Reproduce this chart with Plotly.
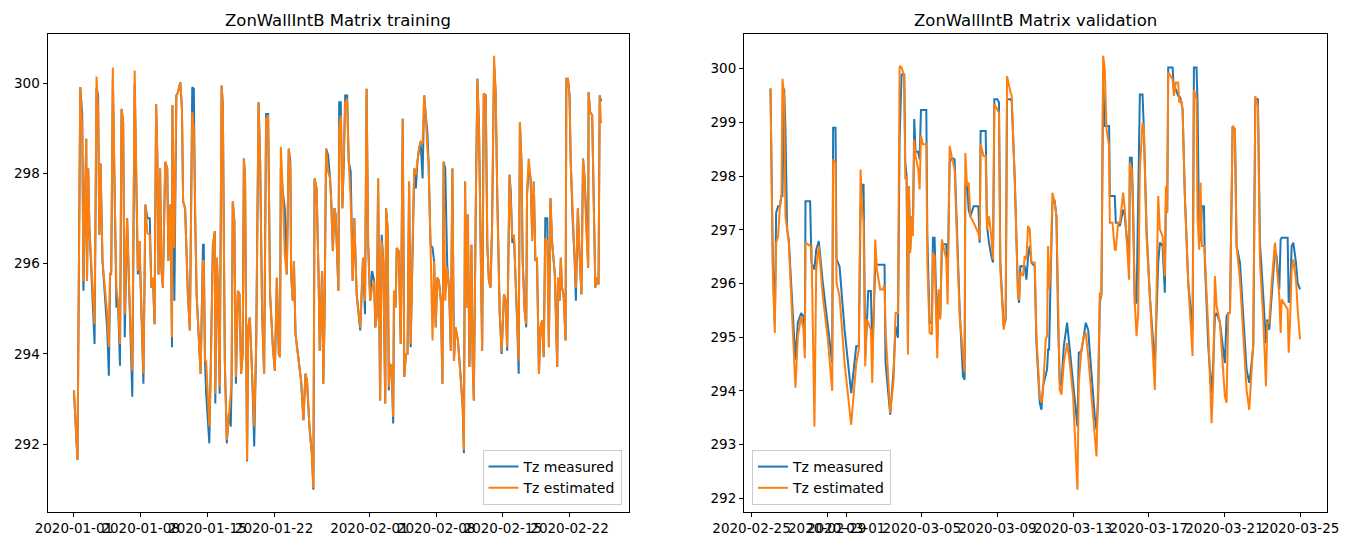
import pandas as pd
import plotly.graph_objects as go

# ---------------- data: training (hours after 2020-01-01 00:00) ----------------
train_start = "2020-01-01 00:00"
train_hours = [
    0, 4, 9, 16, 21, 24, 31, 33, 36, 39,
    52, 57, 61, 64, 67, 72, 79, 84, 88, 91,
    94, 98, 103, 107, 111, 116, 120, 124, 128, 134,
    140, 147, 153, 157, 161, 165, 170, 175, 180, 185,
    191, 195, 199, 203, 207, 210, 213, 217, 220, 224,
    230, 235, 238, 243, 247, 248, 253, 258, 262, 268,
    272, 275, 280, 287, 292, 295, 298, 302, 305, 309,
    319, 325, 327, 330, 333, 341, 345, 350, 355, 356,
    360, 363, 367, 372, 375, 380, 385, 390, 395, 397,
    400, 404, 408, 413, 417, 421, 425, 428, 431, 436,
    439, 443, 449, 454, 459, 465, 469, 474, 479, 484,
    489, 494, 501, 506, 511, 516, 519, 521, 526, 531,
    536, 541, 545, 547, 551, 554, 558, 563, 572, 578,
    583, 587, 593, 599, 603, 606, 611, 616, 619, 625,
    628, 631, 635, 640, 645, 648, 652, 656, 659, 662,
    666, 668, 672, 676, 680, 683, 688, 692, 697, 702,
    706, 712, 721, 728, 733, 737, 741, 746, 751, 756,
    759, 763, 766, 771, 775, 779, 784, 786, 790, 793,
    796, 800, 804, 806, 810, 813, 818, 823, 828, 832,
    836, 840, 844, 848, 852, 857, 861, 865, 869, 873,
    878, 882, 886, 890, 893, 898, 903, 907, 911, 915,
    919, 924, 928, 931, 935, 940, 945, 949, 953, 957,
    961, 967, 974, 979, 982, 985, 988, 992, 996, 1001,
    1004, 1007, 1012, 1016, 1020, 1024, 1028, 1032, 1037, 1041,
    1045, 1049, 1053, 1058, 1062, 1066, 1072, 1077, 1083, 1087,
    1091, 1094, 1097, 1100, 1104, 1108, 1112, 1116, 1120, 1123,
    1127, 1130, 1135, 1139, 1141, 1145, 1150, 1154, 1158, 1162,
    1166, 1171, 1175, 1179, 1183, 1187, 1192, 1196, 1200, 1204,
    1211, 1217, 1219, 1223, 1226, 1229, 1233, 1238, 1240, 1244,
    1248, 1251, 1256, 1261, 1264, 1269, 1273, 1278, 1282, 1286,
    1290, 1295, 1296, 1300, 1305, 1310, 1313, 1317, 1321, 1324,
    1327, 1330,
]
train_measured = [
    293.19, 292.46, 291.65, 299.91, 299.32, 295.40, 298.77, 295.62, 298.11, 296.79,
    294.22, 299.90, 299.73, 296.64, 298.22, 296.06, 295.03, 294.52, 293.52, 295.76,
    295.84, 300.10, 297.38, 295.03, 295.18, 293.74, 299.43, 299.14, 294.37, 297.01,
    295.18, 293.05, 300.00, 298.19, 295.76, 296.50, 295.03, 293.34, 297.31, 297.01,
    297.01, 295.47, 295.69, 294.66, 299.54, 298.41, 295.76, 298.11, 295.91, 295.47,
    298.26, 298.11, 296.06, 297.31, 294.15, 299.51, 295.18, 299.73, 299.80, 300.02,
    299.43, 297.38, 297.23, 295.32, 294.52, 298.19, 299.91, 299.88, 297.16, 295.32,
    293.56, 296.42, 296.42, 293.85, 293.12, 292.02, 293.71, 296.42, 296.72, 292.90,
    296.13, 295.32, 293.12, 299.95, 299.51, 293.85, 292.02, 292.68, 292.39, 293.34,
    297.38, 296.94, 293.34, 295.40, 295.32, 293.56, 294.00, 298.33, 297.89, 291.62,
    294.59, 294.81, 293.49, 291.95, 294.22, 299.58, 298.26, 294.88, 293.56, 299.32,
    299.32, 295.32, 294.15, 293.63, 295.69, 294.00, 293.93, 298.11, 297.60, 297.23,
    295.76, 298.55, 298.26, 295.76, 295.18, 296.06, 294.44, 294.07, 293.41, 292.53,
    293.56, 293.41, 292.39, 291.80, 290.99, 297.89, 297.67, 295.76, 294.07, 295.84,
    293.34, 294.74, 298.55, 298.41, 297.89, 297.38, 296.28, 297.23, 297.09, 296.42,
    295.40, 299.58, 299.58, 297.23, 298.33, 299.73, 299.73, 298.26, 298.04, 295.62,
    297.01, 295.32, 294.52, 296.13, 294.88, 299.88, 296.42, 295.18, 295.84, 295.62,
    294.59, 294.88, 297.89, 292.97, 296.64, 296.06, 292.90, 297.23, 296.79, 293.19,
    293.78, 293.71, 292.46, 295.40, 295.03, 296.35, 296.28, 294.22, 299.21, 293.49,
    294.00, 294.00, 297.82, 294.15, 296.06, 298.11, 297.67, 298.26, 298.55, 298.70,
    297.89, 299.73, 299.29, 298.92, 298.26, 296.42, 296.35, 296.06, 294.59, 295.69,
    295.62, 295.18, 293.34, 298.26, 298.11, 295.98, 295.40, 294.07, 298.11, 293.85,
    294.59, 294.30, 293.49, 292.83, 291.80, 297.82, 295.03, 297.09, 293.71, 296.42,
    293.85, 292.97, 297.31, 300.10, 299.07, 296.64, 294.07, 299.77, 299.73, 296.42,
    295.62, 295.47, 296.86, 300.40, 299.80, 297.53, 294.96, 294.00, 295.32, 295.18,
    294.07, 296.13, 297.97, 297.60, 296.46, 296.64, 295.76, 294.74, 293.56, 299.14,
    298.26, 296.06, 294.96, 294.59, 297.53, 298.11, 297.89, 296.64, 297.82, 296.06,
    296.13, 293.56, 294.59, 294.74, 293.93, 297.01, 297.01, 294.15, 297.45, 296.50,
    295.76, 293.71, 295.69, 295.18, 296.13, 295.47, 295.32, 294.30, 300.10, 300.10,
    299.73, 298.26, 296.94, 296.06, 295.18, 297.23, 296.28, 295.32, 298.33, 297.89,
    297.09, 295.91, 299.80, 299.36, 299.29, 296.35, 295.47, 295.69, 295.54, 299.73,
    299.62, 299.62,
]
train_estimated = [
    293.19, 292.46, 291.65, 299.91, 298.99, 295.62, 298.77, 295.62, 298.11, 296.79,
    294.66, 300.15, 299.36, 296.64, 298.22, 296.06, 295.32, 294.88, 294.15, 295.76,
    295.76, 300.35, 297.38, 295.47, 295.18, 294.22, 299.43, 299.14, 294.88, 297.01,
    295.18, 293.63, 300.28, 298.19, 295.84, 296.50, 295.03, 293.56, 297.31, 296.68,
    296.64, 295.47, 295.69, 294.66, 299.54, 298.41, 295.76, 298.11, 295.91, 295.47,
    298.26, 298.11, 296.06, 297.31, 294.37, 299.51, 296.35, 299.73, 299.80, 300.02,
    299.43, 297.38, 297.23, 295.32, 294.52, 297.97, 299.36, 298.99, 297.16, 295.32,
    293.56, 296.06, 296.06, 293.85, 293.85, 292.39, 293.71, 296.42, 296.72, 293.12,
    296.13, 295.32, 293.27, 299.95, 299.51, 293.85, 292.09, 292.68, 293.12, 293.34,
    297.38, 296.94, 293.49, 295.40, 295.32, 293.56, 294.00, 298.33, 297.89, 291.65,
    294.59, 294.81, 293.49, 292.39, 294.22, 299.58, 298.26, 294.88, 293.56, 299.21,
    299.29, 295.32, 294.15, 293.63, 295.69, 294.00, 293.93, 298.59, 297.60, 296.20,
    295.76, 298.55, 298.11, 295.76, 295.18, 296.06, 294.44, 294.07, 293.41, 292.53,
    293.56, 293.41, 292.39, 291.80, 291.03, 297.89, 297.67, 295.76, 294.07, 295.84,
    293.34, 294.74, 298.55, 298.04, 297.89, 297.38, 296.28, 297.23, 297.09, 296.42,
    295.40, 298.99, 299.29, 297.23, 298.33, 299.58, 299.65, 298.26, 297.38, 295.62,
    297.01, 295.32, 294.59, 296.13, 295.18, 299.88, 296.42, 295.18, 295.47, 295.62,
    294.59, 294.88, 297.89, 292.97, 296.50, 296.06, 292.90, 297.23, 296.79, 293.27,
    293.78, 293.71, 292.61, 295.40, 295.03, 296.35, 296.28, 294.22, 299.21, 293.49,
    294.00, 294.00, 297.82, 294.22, 296.06, 298.11, 297.97, 298.26, 298.55, 298.70,
    298.66, 299.73, 299.29, 298.55, 298.26, 296.42, 294.30, 296.06, 294.59, 295.69,
    295.62, 295.18, 293.34, 298.26, 295.18, 295.91, 295.40, 294.07, 298.11, 293.85,
    294.59, 294.30, 293.49, 292.83, 291.87, 297.82, 295.03, 297.09, 293.71, 296.42,
    293.85, 292.97, 297.31, 300.10, 298.99, 296.64, 294.07, 299.77, 299.73, 296.42,
    295.62, 295.47, 296.86, 300.61, 299.80, 297.53, 294.96, 294.07, 295.32, 295.18,
    294.15, 296.13, 297.97, 297.38, 296.57, 296.64, 295.76, 294.74, 293.85, 299.14,
    298.26, 296.06, 294.96, 294.66, 297.53, 298.33, 297.89, 296.50, 297.82, 296.06,
    296.13, 293.56, 294.59, 294.74, 293.93, 296.57, 296.50, 294.15, 297.45, 296.50,
    295.76, 293.71, 295.69, 295.18, 296.13, 295.47, 295.32, 294.30, 300.10, 300.10,
    299.73, 298.26, 296.94, 296.06, 295.47, 297.23, 296.28, 295.32, 298.33, 297.89,
    296.79, 295.91, 299.80, 299.36, 299.29, 296.35, 295.47, 295.69, 295.54, 299.73,
    299.14, 299.14,
]

# ---------------- data: validation (hours after 2020-02-26 00:00) ----------------
val_start = "2020-02-26 00:00"
val_hours = [
    0.0, 3.0, 5.5, 7.2, 9.7, 12.2, 13.9, 15.2, 17.3, 19.0,
    21.1, 23.2, 28.3, 31.7, 34.7, 38.9, 41.9, 43.6, 44.4, 50.3,
    52.0, 55.8, 58.0, 61.3, 66.4, 72.8, 78.3, 79.5, 82.5, 83.8,
    87.6, 94.0, 102.4, 108.8, 112.1, 114.3, 116.4, 118.1, 120.2, 122.3,
    124.0, 127.4, 129.1, 130.8, 132.9, 135.0, 139.2, 142.6, 144.7, 146.0,
    151.9, 156.2, 158.7, 161.7, 163.8, 166.3, 169.7, 171.0, 172.7, 174.4,
    175.6, 177.3, 179.4, 180.7, 182.4, 184.1, 187.5, 189.2, 190.9, 193.4,
    197.7, 199.0, 201.9, 204.8, 206.1, 208.2, 211.6, 213.3, 215.4, 217.5,
    223.0, 224.7, 227.3, 229.8, 233.6, 240.0, 244.2, 246.3, 247.2, 249.3,
    251.4, 253.5, 257.8, 263.7, 265.4, 266.6, 270.4, 273.0, 274.7, 277.2,
    280.2, 282.3, 284.0, 287.8, 289.9, 291.6, 295.9, 298.4, 300.1, 304.3, 306.0,
    309.9, 314.1, 315.4, 317.0, 320.4, 322.5, 324.7, 326.8, 328.9, 331.0,
    335.2, 337.4, 341.6, 343.7, 345.8, 349.2, 350.9, 352.2, 353.5, 355.1,
    357.7, 360.6, 362.8, 364.9, 367.0, 369.1, 372.1, 376.3, 379.7, 383.9,
    389.4, 391.1, 394.5, 397.5, 400.0, 403.0, 407.2, 411.4, 413.6, 415.7,
    417.8, 419.9, 422.0, 424.1, 426.3, 429.6, 430.5, 433.9, 436.8, 438.1,
    441.1, 443.2, 447.4, 449.5, 452.5, 455.0, 455.9, 458.4, 460.1, 462.2,
    464.4, 466.5, 468.6, 472.0, 473.7, 477.1, 481.3, 487.6, 491.9, 494.0,
    497.4, 500.3, 501.6, 503.3, 504.6, 510.1, 511.8, 514.3, 517.3, 518.5,
    520.7, 522.8, 525.7, 530.0, 535.5, 537.2, 540.5, 541.8, 543.9, 545.6,
    547.3, 549.9, 551.1, 555.4, 559.6, 561.7, 563.8, 566.0, 570.2, 574.4,
    576.5, 578.6, 580.8, 582.9, 586.3, 589.2, 591.3, 595.6, 599.8, 604.0,
    607.4, 609.1, 612.5, 615.1, 618.4, 621.0, 625.2, 628.6, 630.3, 632.8,
    635.8, 640.0, 642.1, 645.5, 647.2, 648.5, 656.1, 657.4, 659.1, 661.2,
    663.3, 666.7, 668.8, 671.8,
]
val_measured = [
    299.63, 296.39, 295.27, 297.32, 297.44, 297.44, 297.63, 297.63, 299.63, 298.87,
    297.01, 296.82, 295.45, 294.58, 295.27, 295.45, 295.39, 294.77, 297.53, 297.53,
    296.39, 296.26, 296.63, 296.79, 296.01, 295.14, 294.52, 298.90, 298.90, 296.45,
    296.32, 295.14, 293.96, 294.83, 294.83, 297.38, 297.84, 297.84, 294.65, 295.27,
    295.86, 295.86, 294.77, 295.33, 296.35, 296.35, 296.35, 296.35, 296.35, 294.52,
    293.56, 294.40, 295.20, 294.99, 298.68, 299.89, 299.89, 298.25, 298.00, 294.83,
    297.81, 296.63, 297.25, 297.01, 299.06, 298.45, 298.45, 298.31, 299.23, 299.23,
    299.23, 296.88, 295.27, 295.27, 296.85, 296.85, 294.96, 295.83, 295.39, 296.73,
    296.73, 296.01, 298.25, 298.34, 298.31, 295.52, 294.27, 294.21, 297.84, 297.88,
    297.38, 297.25, 297.44, 297.44, 296.76, 298.84, 298.84, 298.84, 297.07, 296.76,
    296.51, 296.39, 299.43, 299.43, 299.37, 296.39, 295.20, 295.33, 299.43, 299.43, 299.40,
    297.94, 295.76, 295.64, 296.32, 296.32, 296.32, 296.07, 296.51, 296.70, 296.39,
    296.32, 294.89, 293.78, 293.65, 294.09, 294.34, 294.40, 294.77, 294.77, 295.89,
    297.50, 297.53, 297.25, 295.27, 294.15, 294.09, 294.83, 295.27, 294.77, 294.15,
    293.34, 294.71, 294.74, 295.02, 295.27, 295.14, 294.27, 293.53, 293.28, 293.84,
    295.64, 295.83, 299.80, 298.93, 298.93, 298.93, 297.63, 297.63, 297.63, 297.13,
    297.13, 297.07, 297.38, 297.25, 296.76, 296.39, 298.34, 298.34, 297.38, 295.64,
    295.64, 297.38, 299.52, 299.52, 298.87, 297.01, 295.76, 294.46, 296.39, 296.76,
    296.70, 295.83, 297.50, 297.32, 300.02, 300.02, 299.61, 299.61, 299.49, 299.49,
    299.43, 299.24, 297.63, 296.01, 295.14, 300.02, 300.02, 299.37, 296.76, 296.88,
    297.44, 297.44, 296.39, 294.83, 293.96, 294.52, 295.39, 295.45, 295.27, 294.77,
    294.52, 295.39, 295.45, 295.45, 298.93, 298.87, 296.70, 296.39, 295.33, 294.40,
    294.15, 294.34, 294.83, 299.43, 299.43, 296.76, 295.76, 294.89, 295.33, 295.14,
    295.76, 296.63, 296.51, 295.89, 296.82, 296.85, 296.85, 295.64, 295.76, 296.70,
    296.76, 296.39, 296.01, 295.89,
]
val_estimated = [
    299.63, 296.14, 295.08, 296.76, 296.88, 297.50, 297.63, 299.81, 299.49, 297.25,
    297.01, 296.76, 295.14, 294.06, 295.02, 295.39, 295.14, 294.61, 296.76, 296.70,
    296.70, 293.34, 296.26, 296.70, 295.76, 294.96, 294.00, 298.31, 298.25, 296.01,
    295.76, 294.52, 293.37, 294.52, 294.77, 298.12, 297.38, 297.13, 294.46, 295.33,
    295.27, 295.14, 294.15, 295.27, 296.82, 296.26, 295.89, 295.89, 295.98, 295.14,
    293.59, 294.21, 295.45, 295.45, 300.05, 300.02, 299.86, 297.94, 298.00, 294.68,
    297.81, 296.57, 297.25, 296.88, 298.68, 298.37, 298.12, 297.75, 298.75, 298.59,
    298.59, 296.39, 295.08, 295.05, 296.57, 296.51, 294.61, 295.89, 295.33, 296.82,
    296.45, 295.61, 298.56, 298.37, 298.12, 295.39, 294.58, 294.34, 298.43, 297.81,
    297.88, 297.25, 297.13, 296.94, 296.82, 298.59, 298.37, 298.37, 297.01, 297.25,
    296.88, 296.45, 299.34, 299.24, 299.18, 296.26, 295.14, 295.39, 299.86, 299.58, 299.49,
    297.94, 295.76, 295.70, 296.20, 296.14, 296.51, 296.45, 297.07, 297.01, 296.39,
    296.39, 295.02, 293.90, 293.78, 294.02, 294.96, 295.02, 296.70, 295.89, 296.14,
    297.69, 297.50, 297.25, 295.27, 294.02, 293.93, 294.52, 294.89, 294.52, 293.90,
    292.16, 294.15, 294.77, 295.02, 295.08, 294.65, 293.90, 293.28, 292.78, 294.15,
    295.83, 295.76, 300.24, 299.99, 298.87, 298.56, 297.13, 297.13, 296.63, 296.63,
    297.13, 297.13, 297.69, 297.38, 296.70, 296.07, 298.25, 298.12, 297.25, 295.64,
    295.02, 295.45, 298.12, 298.99, 298.87, 296.88, 295.76, 294.02, 297.63, 297.01,
    296.88, 296.14, 297.81, 297.32, 299.93, 299.80, 299.49, 299.74, 299.74, 299.37,
    299.43, 299.24, 297.63, 296.01, 294.65, 299.61, 299.43, 297.25, 296.63, 297.88,
    296.70, 296.70, 296.51, 295.14, 293.40, 294.21, 296.14, 295.58, 295.27, 294.21,
    293.90, 293.78, 295.45, 295.45, 298.93, 298.87, 296.70, 296.07, 295.14, 294.02,
    293.65, 294.15, 294.89, 299.49, 299.30, 296.39, 295.33, 294.09, 295.27, 295.27,
    296.01, 296.76, 296.39, 295.76, 295.08, 295.70, 295.52, 294.71, 295.27, 296.26,
    296.45, 296.07, 295.52, 294.96,
]

train_ticks = ["2020-01-01", "2020-01-08", "2020-01-15", "2020-01-22",
               "2020-02-01", "2020-02-08", "2020-02-15", "2020-02-22"]
val_ticks = ["2020-02-25", "2020-02-29", "2020-03-01", "2020-03-05", "2020-03-09",
             "2020-03-13", "2020-03-17", "2020-03-21", "2020-03-25"]
train_yticks = [292, 294, 296, 298, 300]
val_yticks = [292, 293, 294, 295, 296, 297, 298, 299, 300]

titles = ["ZonWallIntB Matrix training", "ZonWallIntB Matrix validation"]
names = ["Tz measured", "Tz estimated"]
BLUE, ORANGE = "#1f77b4", "#ff7f0e"
FONT = "DejaVu Sans"

assert len(train_hours) == len(train_measured) == len(train_estimated)
assert len(val_hours) == len(val_measured) == len(val_estimated)


def to_times(start, hours):
    return pd.Timestamp(start) + pd.to_timedelta(hours, unit="h")


t_train = to_times(train_start, train_hours)
t_val = to_times(val_start, val_hours)


def auto_range(vals, pad=0.05):
    lo, hi = min(vals), max(vals)
    m = (hi - lo) * pad
    return [lo - m, hi + m]


def time_range(times, pad=0.05):
    lo, hi = times.min(), times.max()
    m = (hi - lo) * pad
    return [lo - m, hi + m]


LW = 2.0
fig = go.Figure()
fig.add_trace(go.Scatter(x=t_train, y=train_measured, mode="lines", name=names[0],
                         line=dict(color=BLUE, width=LW), xaxis="x", yaxis="y",
                         legend="legend"))
fig.add_trace(go.Scatter(x=t_train, y=train_estimated, mode="lines", name=names[1],
                         line=dict(color=ORANGE, width=LW), xaxis="x", yaxis="y",
                         legend="legend"))
fig.add_trace(go.Scatter(x=t_val, y=val_measured, mode="lines", name=names[0],
                         line=dict(color=BLUE, width=LW), xaxis="x2", yaxis="y2",
                         legend="legend2"))
fig.add_trace(go.Scatter(x=t_val, y=val_estimated, mode="lines", name=names[1],
                         line=dict(color=ORANGE, width=LW), xaxis="x2", yaxis="y2",
                         legend="legend2"))

W, H = 1355, 538
axis_common = dict(showline=True, mirror=True, linecolor="black", linewidth=1,
                   ticks="outside", ticklen=4, tickwidth=1, tickcolor="black",
                   showgrid=False, zeroline=False, automargin=False,
                   tickfont=dict(family=FONT, size=13.5, color="black"))

yd = [1 - 511.5 / H, 1 - 34 / H]
fig.update_layout(
    width=W, height=H,
    margin=dict(l=0, r=0, t=0, b=0, autoexpand=False),
    paper_bgcolor="white", plot_bgcolor="white",
    font=dict(family=FONT, color="black"),
    xaxis=dict(domain=[47.5 / W, 628.5 / W], anchor="y", type="date",
               range=time_range(t_train),
               tickvals=pd.to_datetime(train_ticks), ticktext=train_ticks,
               tickangle=0, **axis_common),
    yaxis=dict(domain=yd, anchor="x",
               range=auto_range(train_measured + train_estimated),
               tickvals=train_yticks, ticktext=[str(v) for v in train_yticks],
               **axis_common),
    xaxis2=dict(domain=[744 / W, 1326.5 / W], anchor="y2", type="date",
                range=time_range(t_val),
                tickvals=pd.to_datetime(val_ticks), ticktext=val_ticks,
                tickangle=0, **axis_common),
    yaxis2=dict(domain=yd, anchor="x2",
                range=auto_range(val_measured + val_estimated),
                tickvals=val_yticks, ticktext=[str(v) for v in val_yticks],
                **axis_common),
    legend=dict(x=621.5 / W, y=1 - 505 / H, xanchor="right", yanchor="bottom",
                bgcolor="rgba(255,255,255,0.85)", bordercolor="#cccccc", borderwidth=1,
                font=dict(family=FONT, size=14, color="black"),
                tracegroupgap=0, itemwidth=30),
    legend2=dict(x=752 / W, y=1 - 505 / H, xanchor="left", yanchor="bottom",
                 bgcolor="rgba(255,255,255,0.85)", bordercolor="#cccccc", borderwidth=1,
                 font=dict(family=FONT, size=14, color="black"),
                 tracegroupgap=0, itemwidth=30),
    showlegend=True,
)

for i, (title, dom) in enumerate(zip(titles, [[47.5, 628.5], [744, 1326.5]])):
    fig.add_annotation(text=title, x=(dom[0] + dom[1]) / 2 / W, y=1 - 20 / H,
                       xref="paper", yref="paper", showarrow=False,
                       xanchor="center", yanchor="middle",
                       font=dict(family=FONT, size=16.5, color="black"))

fig.write_html("out.html",
               config={"displayModeBar": False},
               post_script="document.body.style.margin='0px';"
                           "document.body.style.overflow='hidden';")
